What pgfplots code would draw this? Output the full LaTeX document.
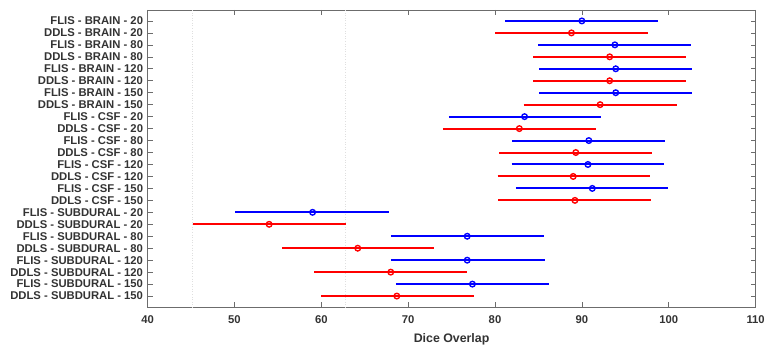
\documentclass[border=0pt]{standalone}
\usepackage{fontspec}
\setmainfont{Liberation Sans}
\usepackage{pgfplots}
\pgfplotsset{compat=1.18}
\usepackage{pgfplotstable}
% FLIS: mean, row, lower, upper
\pgfplotstableread{
x y lo hi
90.0 1 81.2 98.8
93.8 3 85.0 102.6
93.9 5 85.1 102.7
93.9 7 85.1 102.7
83.4 9 74.7 92.2
90.8 11 82.0 99.6
90.7 13 81.9 99.5
91.2 15 82.4 99.9
59.0 17 50.1 67.8
76.8 19 68.0 85.6
76.8 21 68.0 85.7
77.4 23 68.6 86.2
}\flis
% DDLS
\pgfplotstableread{
x y lo hi
88.8 2 80.0 97.6
93.2 4 84.4 102.0
93.2 6 84.4 102.0
92.1 8 83.3 100.9
82.8 10 74.0 91.6
89.3 12 80.5 98.1
89.0 14 80.3 97.8
89.2 16 80.4 98.0
54.0 18 45.2 62.8
64.2 20 55.5 73.0
68.0 22 59.2 76.8
68.7 24 60.0 77.6
}\ddls
\begin{document}
\begin{tikzpicture}
\begin{axis}[
  name=ax,
  scale only axis,
  width=610bp, height=298bp,
  xmin=40, xmax=110, ymin=0.083333, ymax=24.916667,
  y dir=reverse,
  xtick={40,50,...,110},
  ytick={1,...,24},
  yticklabels={FLIS - BRAIN - 20, DDLS - BRAIN - 20, FLIS - BRAIN - 80, DDLS - BRAIN - 80, FLIS - BRAIN - 120, DDLS - BRAIN - 120, FLIS - BRAIN - 150, DDLS - BRAIN - 150, FLIS - CSF - 20, DDLS - CSF - 20, FLIS - CSF - 80, DDLS - CSF - 80, FLIS - CSF - 120, DDLS - CSF - 120, FLIS - CSF - 150, DDLS - CSF - 150, FLIS - SUBDURAL - 20, DDLS - SUBDURAL - 20, FLIS - SUBDURAL - 80, DDLS - SUBDURAL - 80, FLIS - SUBDURAL - 120, DDLS - SUBDURAL - 120, FLIS - SUBDURAL - 150, DDLS - SUBDURAL - 150},
  tick align=inside,
  major tick length=5bp,
  xtick pos=both, ytick pos=both,
  axis line style={gray!85!black, line width=0.7pt},
  tick style={gray!85!black, line width=0.6pt},
  ticklabel style={font=\fontsize{11.3bp}{13bp}\selectfont\bfseries, text=black!80},
  /pgf/number format/assume math mode=true,
  xlabel={Dice Overlap},
  xlabel style={font=\fontsize{12.4bp}{14bp}\selectfont\bfseries, text=black!80, yshift=-3bp},
  xticklabel style={yshift=-5bp},
  yticklabel style={xshift=-1bp},
  clip=false,
]
\addplot[gray!25, dotted, line width=0.6pt] coordinates {(45.2,0.083333) (45.2,24.916667)};
\addplot[gray!25, dotted, line width=0.6pt] coordinates {(62.8,0.083333) (62.8,24.916667)};
% interval lines: lower and upper bounds per row
\pgfplotsinvokeforeach{0,...,11}{
  \pgfplotstablegetelem{#1}{lo}\of\flis \let\flo\pgfplotsretval
  \pgfplotstablegetelem{#1}{hi}\of\flis \let\fhi\pgfplotsretval
  \pgfplotstablegetelem{#1}{y}\of\flis \let\fy\pgfplotsretval
  \edef\tmp{\noexpand\addplot[blue, line width=2bp, forget plot] coordinates {(\flo,\fy) (\fhi,\fy)};}\tmp
  \pgfplotstablegetelem{#1}{lo}\of\ddls \let\dlo\pgfplotsretval
  \pgfplotstablegetelem{#1}{hi}\of\ddls \let\dhi\pgfplotsretval
  \pgfplotstablegetelem{#1}{y}\of\ddls \let\dy\pgfplotsretval
  \edef\tmp{\noexpand\addplot[red, line width=2bp, forget plot] coordinates {(\dlo,\dy) (\dhi,\dy)};}\tmp
}
\addplot[only marks, mark=o, mark size=2.8bp, color=blue, line width=1.4pt] table[x=x, y=y] {\flis};
\addplot[only marks, mark=o, mark size=2.8bp, color=red, line width=1.4pt] table[x=x, y=y] {\ddls};
\end{axis}
\path ([xshift=-148bp,yshift=-40bp]ax.south west) rectangle ([xshift=10bp,yshift=10bp]ax.north east);
\end{tikzpicture}
\end{document}
